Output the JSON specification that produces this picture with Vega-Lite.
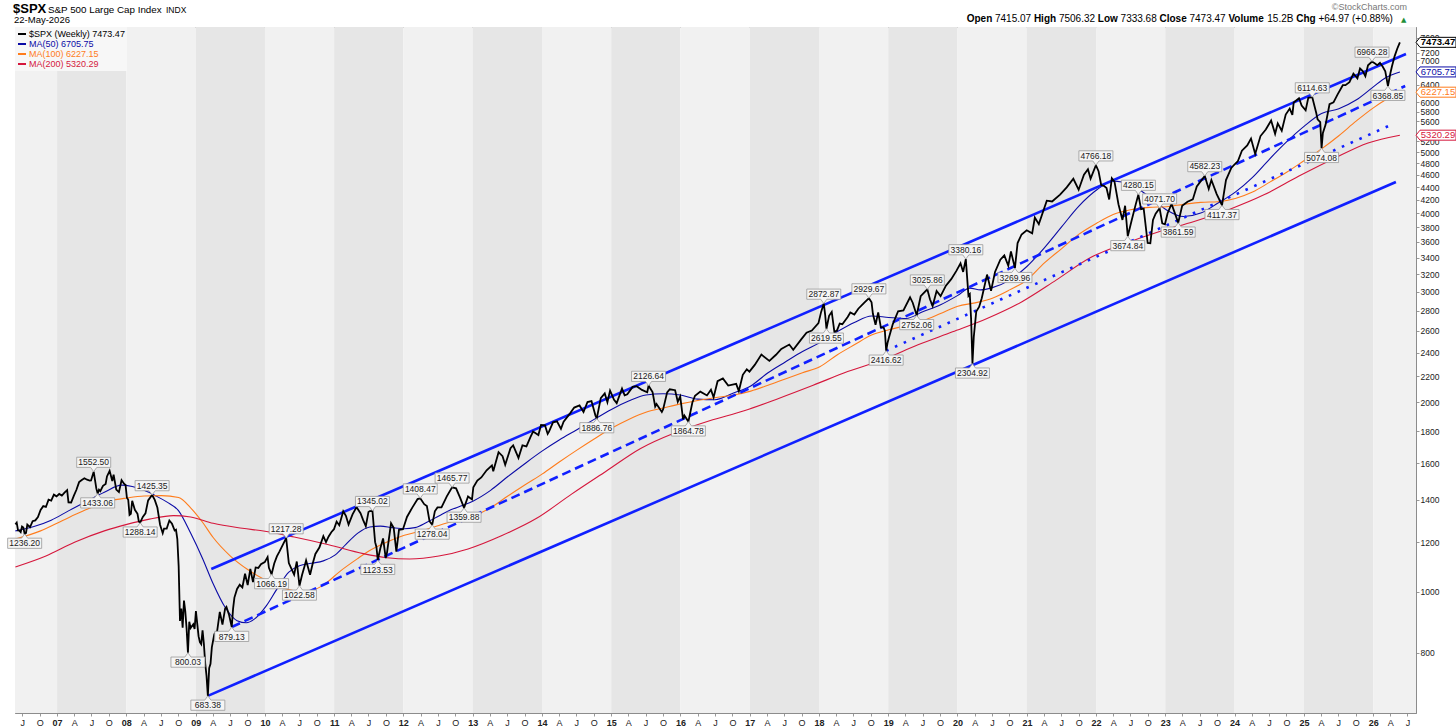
{
"$schema":"https://vega.github.io/schema/vega-lite/v6.json",
"width":1401,"height":686,
"autosize":"none",
"padding":{"left":15,"top":27,"right":40,"bottom":15},
"background":"white",
"config":{"view":{"stroke":"#8c8c8c","strokeWidth":1},"font":"Liberation Sans"},
"datasets":{
"bands":[
{"date":"2006-01-01","end":"2007-01-01"},{"date":"2007-01-01","end":"2008-01-01"},{"date":"2008-01-01","end":"2009-01-01"},{"date":"2009-01-01","end":"2010-01-01"},{"date":"2010-01-01","end":"2011-01-01"},{"date":"2011-01-01","end":"2012-01-01"},{"date":"2012-01-01","end":"2013-01-01"},{"date":"2013-01-01","end":"2014-01-01"},{"date":"2014-01-01","end":"2015-01-01"},{"date":"2015-01-01","end":"2016-01-01"},{"date":"2016-01-01","end":"2017-01-01"},{"date":"2017-01-01","end":"2018-01-01"},{"date":"2018-01-01","end":"2019-01-01"},{"date":"2019-01-01","end":"2020-01-01"},{"date":"2020-01-01","end":"2021-01-01"},{"date":"2021-01-01","end":"2022-01-01"},{"date":"2022-01-01","end":"2023-01-01"},{"date":"2023-01-01","end":"2024-01-01"},{"date":"2024-01-01","end":"2025-01-01"},{"date":"2025-01-01","end":"2026-01-01"},{"date":"2026-01-01","end":"2027-01-01"}
],
"price":[
{"date":"2006-05-26","value":1280.16},{"date":"2006-06-02","value":1288.22},{"date":"2006-06-09","value":1252.30},{"date":"2006-06-16","value":1251.54},{"date":"2006-06-23","value":1244.50},{"date":"2006-06-30","value":1270.20},{"date":"2006-07-07","value":1265.48},{"date":"2006-07-14","value":1236.20},{"date":"2006-07-21","value":1240.29},{"date":"2006-07-28","value":1278.55},{"date":"2006-08-11","value":1266.74},{"date":"2006-08-25","value":1295.09},{"date":"2006-09-08","value":1298.92},{"date":"2006-09-22","value":1314.78},{"date":"2006-10-06","value":1349.59},{"date":"2006-10-20","value":1368.60},{"date":"2006-11-03","value":1364.30},{"date":"2006-11-17","value":1401.20},{"date":"2006-12-01","value":1396.71},{"date":"2006-12-15","value":1427.09},{"date":"2006-12-29","value":1418.30},
{"date":"2007-01-12","value":1430.73},{"date":"2007-01-26","value":1422.18},{"date":"2007-02-09","value":1438.06},{"date":"2007-02-23","value":1451.19},{"date":"2007-03-02","value":1387.17},{"date":"2007-03-16","value":1386.95},{"date":"2007-03-30","value":1420.86},{"date":"2007-04-13","value":1452.85},{"date":"2007-04-27","value":1494.07},{"date":"2007-05-11","value":1505.85},{"date":"2007-05-25","value":1515.73},{"date":"2007-06-08","value":1507.67},{"date":"2007-06-22","value":1502.56},{"date":"2007-06-29","value":1503.35},{"date":"2007-07-13","value":1552.50},{"date":"2007-07-27","value":1458.95},{"date":"2007-08-03","value":1433.06},{"date":"2007-08-10","value":1453.64},{"date":"2007-08-17","value":1445.94},{"date":"2007-08-31","value":1473.99},{"date":"2007-09-14","value":1484.25},{"date":"2007-09-21","value":1525.75},{"date":"2007-10-05","value":1557.59},{"date":"2007-10-19","value":1500.63},{"date":"2007-10-26","value":1535.28},{"date":"2007-11-09","value":1453.70},{"date":"2007-11-23","value":1440.70},{"date":"2007-12-07","value":1504.66},{"date":"2007-12-21","value":1484.46},{"date":"2007-12-28","value":1478.49},
{"date":"2008-01-04","value":1411.63},{"date":"2008-01-11","value":1401.02},{"date":"2008-01-18","value":1325.19},{"date":"2008-01-25","value":1330.61},{"date":"2008-02-01","value":1395.42},{"date":"2008-02-15","value":1349.99},{"date":"2008-02-29","value":1330.63},{"date":"2008-03-07","value":1293.37},{"date":"2008-03-14","value":1288.14},{"date":"2008-03-28","value":1315.22},{"date":"2008-04-11","value":1332.83},{"date":"2008-04-25","value":1397.84},{"date":"2008-05-16","value":1425.35},{"date":"2008-05-30","value":1400.38},{"date":"2008-06-13","value":1360.03},{"date":"2008-06-27","value":1278.38},{"date":"2008-07-11","value":1239.49},{"date":"2008-07-18","value":1260.68},{"date":"2008-08-01","value":1260.31},{"date":"2008-08-15","value":1298.20},{"date":"2008-08-29","value":1282.83},{"date":"2008-09-12","value":1251.70},{"date":"2008-09-19","value":1255.08},{"date":"2008-09-26","value":1213.27},{"date":"2008-10-03","value":1099.23},{"date":"2008-10-10","value":899.22},{"date":"2008-10-17","value":940.55},{"date":"2008-10-24","value":876.77},{"date":"2008-10-31","value":968.75},{"date":"2008-11-07","value":930.99},{"date":"2008-11-14","value":873.29},{"date":"2008-11-21","value":800.03},{"date":"2008-11-28","value":896.24},{"date":"2008-12-05","value":876.07},{"date":"2008-12-19","value":887.88},{"date":"2008-12-26","value":872.80},
{"date":"2009-01-02","value":931.80},{"date":"2009-01-09","value":890.35},{"date":"2009-01-16","value":850.12},{"date":"2009-01-23","value":831.95},{"date":"2009-01-30","value":825.88},{"date":"2009-02-06","value":868.60},{"date":"2009-02-13","value":826.84},{"date":"2009-02-20","value":770.05},{"date":"2009-02-27","value":735.09},{"date":"2009-03-06","value":683.38},{"date":"2009-03-13","value":756.55},{"date":"2009-03-20","value":768.54},{"date":"2009-03-27","value":815.94},{"date":"2009-04-09","value":856.56},{"date":"2009-04-24","value":866.23},{"date":"2009-05-08","value":929.23},{"date":"2009-05-22","value":887.00},{"date":"2009-06-05","value":940.09},{"date":"2009-06-12","value":946.21},{"date":"2009-06-26","value":918.90},{"date":"2009-07-10","value":879.13},{"date":"2009-07-17","value":940.38},{"date":"2009-07-24","value":979.26},{"date":"2009-08-07","value":1010.48},{"date":"2009-08-21","value":1026.13},{"date":"2009-09-04","value":1016.40},{"date":"2009-09-18","value":1068.30},{"date":"2009-10-02","value":1025.21},{"date":"2009-10-16","value":1087.68},{"date":"2009-10-30","value":1036.19},{"date":"2009-11-13","value":1093.48},{"date":"2009-11-27","value":1091.49},{"date":"2009-12-11","value":1106.41},{"date":"2009-12-31","value":1115.10},
{"date":"2010-01-15","value":1136.03},{"date":"2010-01-22","value":1091.76},{"date":"2010-02-05","value":1066.19},{"date":"2010-02-19","value":1109.17},{"date":"2010-03-05","value":1138.70},{"date":"2010-03-19","value":1159.90},{"date":"2010-04-09","value":1194.37},{"date":"2010-04-23","value":1217.28},{"date":"2010-05-07","value":1110.88},{"date":"2010-05-21","value":1087.69},{"date":"2010-06-04","value":1064.88},{"date":"2010-06-18","value":1117.51},{"date":"2010-07-02","value":1022.58},{"date":"2010-07-16","value":1064.88},{"date":"2010-07-30","value":1101.60},{"date":"2010-08-06","value":1121.64},{"date":"2010-08-27","value":1064.59},{"date":"2010-09-10","value":1109.55},{"date":"2010-09-24","value":1148.67},{"date":"2010-10-15","value":1176.19},{"date":"2010-11-05","value":1225.85},{"date":"2010-11-19","value":1199.73},{"date":"2010-12-03","value":1224.71},{"date":"2010-12-17","value":1243.91},{"date":"2010-12-31","value":1257.64},
{"date":"2011-01-14","value":1293.24},{"date":"2011-01-28","value":1276.34},{"date":"2011-02-18","value":1343.01},{"date":"2011-03-04","value":1321.15},{"date":"2011-03-18","value":1279.21},{"date":"2011-04-08","value":1328.17},{"date":"2011-04-29","value":1363.61},{"date":"2011-05-20","value":1333.27},{"date":"2011-06-03","value":1300.16},{"date":"2011-06-17","value":1271.50},{"date":"2011-07-01","value":1339.67},{"date":"2011-07-08","value":1343.80},{"date":"2011-07-22","value":1345.02},{"date":"2011-08-05","value":1199.38},{"date":"2011-08-12","value":1178.81},{"date":"2011-08-19","value":1123.53},{"date":"2011-09-02","value":1173.97},{"date":"2011-09-16","value":1216.01},{"date":"2011-09-30","value":1131.42},{"date":"2011-10-07","value":1155.46},{"date":"2011-10-28","value":1285.09},{"date":"2011-11-11","value":1263.85},{"date":"2011-11-25","value":1158.67},{"date":"2011-12-09","value":1255.19},{"date":"2011-12-30","value":1257.60},
{"date":"2012-01-20","value":1315.38},{"date":"2012-02-17","value":1361.23},{"date":"2012-03-16","value":1404.17},{"date":"2012-03-30","value":1408.47},{"date":"2012-04-20","value":1378.53},{"date":"2012-05-04","value":1369.10},{"date":"2012-05-18","value":1295.22},{"date":"2012-06-01","value":1278.04},{"date":"2012-06-15","value":1342.84},{"date":"2012-06-29","value":1362.16},{"date":"2012-07-20","value":1362.66},{"date":"2012-08-17","value":1418.16},{"date":"2012-09-14","value":1465.77},{"date":"2012-10-05","value":1460.93},{"date":"2012-10-26","value":1411.94},{"date":"2012-11-16","value":1359.88},{"date":"2012-12-07","value":1418.07},{"date":"2012-12-28","value":1402.43},
{"date":"2013-01-04","value":1466.47},{"date":"2013-01-25","value":1502.96},{"date":"2013-02-15","value":1519.79},{"date":"2013-03-15","value":1560.70},{"date":"2013-04-12","value":1588.85},{"date":"2013-04-19","value":1555.25},{"date":"2013-05-17","value":1667.47},{"date":"2013-06-07","value":1643.38},{"date":"2013-06-21","value":1592.43},{"date":"2013-07-19","value":1692.09},{"date":"2013-08-02","value":1709.67},{"date":"2013-08-30","value":1632.97},{"date":"2013-09-20","value":1709.91},{"date":"2013-10-11","value":1703.20},{"date":"2013-11-01","value":1761.64},{"date":"2013-11-15","value":1798.18},{"date":"2013-12-13","value":1775.32},{"date":"2013-12-27","value":1841.40},
{"date":"2014-01-17","value":1838.70},{"date":"2014-01-31","value":1782.59},{"date":"2014-02-07","value":1797.02},{"date":"2014-02-28","value":1859.45},{"date":"2014-03-21","value":1866.52},{"date":"2014-04-11","value":1815.69},{"date":"2014-04-25","value":1863.40},{"date":"2014-05-30","value":1923.57},{"date":"2014-06-20","value":1962.87},{"date":"2014-07-18","value":1978.22},{"date":"2014-08-08","value":1931.59},{"date":"2014-08-29","value":2003.37},{"date":"2014-09-19","value":2010.40},{"date":"2014-10-10","value":1906.13},{"date":"2014-10-17","value":1886.76},{"date":"2014-11-07","value":2031.92},{"date":"2014-11-28","value":2067.56},{"date":"2014-12-12","value":2002.33},{"date":"2014-12-26","value":2088.77},
{"date":"2015-01-16","value":2019.42},{"date":"2015-01-30","value":1994.99},{"date":"2015-02-27","value":2104.50},{"date":"2015-03-13","value":2053.40},{"date":"2015-03-27","value":2061.02},{"date":"2015-04-24","value":2117.69},{"date":"2015-05-15","value":2122.73},{"date":"2015-06-12","value":2094.11},{"date":"2015-07-10","value":2076.62},{"date":"2015-07-17","value":2126.64},{"date":"2015-08-07","value":2077.57},{"date":"2015-08-21","value":1970.89},{"date":"2015-08-28","value":1988.87},{"date":"2015-09-25","value":1931.34},{"date":"2015-10-02","value":1951.36},{"date":"2015-10-23","value":2075.15},{"date":"2015-11-06","value":2099.20},{"date":"2015-12-04","value":2091.69},{"date":"2015-12-18","value":2005.55},{"date":"2015-12-31","value":2043.94},
{"date":"2016-01-15","value":1880.33},{"date":"2016-01-22","value":1906.90},{"date":"2016-02-12","value":1864.78},{"date":"2016-03-04","value":1999.99},{"date":"2016-03-18","value":2049.58},{"date":"2016-04-15","value":2080.73},{"date":"2016-05-20","value":2052.32},{"date":"2016-06-10","value":2096.07},{"date":"2016-06-24","value":2037.41},{"date":"2016-07-15","value":2161.74},{"date":"2016-08-12","value":2184.05},{"date":"2016-09-09","value":2127.81},{"date":"2016-10-21","value":2141.16},{"date":"2016-11-04","value":2085.18},{"date":"2016-11-25","value":2213.35},{"date":"2016-12-16","value":2258.07},{"date":"2016-12-30","value":2238.83},
{"date":"2017-01-27","value":2294.69},{"date":"2017-03-03","value":2383.12},{"date":"2017-04-14","value":2328.95},{"date":"2017-05-19","value":2381.73},{"date":"2017-06-16","value":2433.15},{"date":"2017-07-28","value":2472.10},{"date":"2017-08-18","value":2425.55},{"date":"2017-09-29","value":2519.36},{"date":"2017-10-27","value":2581.07},{"date":"2017-11-24","value":2602.42},{"date":"2017-12-29","value":2673.61},
{"date":"2018-01-12","value":2786.24},{"date":"2018-01-26","value":2872.87},{"date":"2018-02-02","value":2762.13},{"date":"2018-02-09","value":2619.55},{"date":"2018-02-23","value":2747.30},{"date":"2018-03-09","value":2786.57},{"date":"2018-03-23","value":2588.26},{"date":"2018-04-06","value":2604.47},{"date":"2018-04-20","value":2670.14},{"date":"2018-05-04","value":2663.42},{"date":"2018-06-01","value":2734.62},{"date":"2018-06-15","value":2779.66},{"date":"2018-07-06","value":2759.82},{"date":"2018-07-27","value":2818.82},{"date":"2018-08-24","value":2874.69},{"date":"2018-09-21","value":2929.67},{"date":"2018-10-05","value":2885.57},{"date":"2018-10-12","value":2767.13},{"date":"2018-10-26","value":2658.69},{"date":"2018-11-09","value":2781.01},{"date":"2018-11-23","value":2632.56},{"date":"2018-12-07","value":2633.08},{"date":"2018-12-14","value":2599.95},{"date":"2018-12-21","value":2416.62},{"date":"2018-12-28","value":2485.74},
{"date":"2019-01-04","value":2531.94},{"date":"2019-01-25","value":2664.76},{"date":"2019-02-22","value":2792.67},{"date":"2019-03-22","value":2800.71},{"date":"2019-04-26","value":2939.88},{"date":"2019-05-10","value":2881.40},{"date":"2019-05-31","value":2752.06},{"date":"2019-06-21","value":2950.46},{"date":"2019-07-26","value":3025.86},{"date":"2019-08-09","value":2918.65},{"date":"2019-08-23","value":2847.11},{"date":"2019-09-13","value":3007.39},{"date":"2019-10-04","value":2952.01},{"date":"2019-11-01","value":3066.91},{"date":"2019-11-29","value":3140.98},{"date":"2019-12-27","value":3240.02},
{"date":"2020-01-17","value":3329.62},{"date":"2020-01-31","value":3225.52},{"date":"2020-02-14","value":3380.16},{"date":"2020-02-28","value":2954.22},{"date":"2020-03-06","value":2972.37},{"date":"2020-03-13","value":2711.02},{"date":"2020-03-20","value":2304.92},{"date":"2020-03-27","value":2541.47},{"date":"2020-04-09","value":2789.82},{"date":"2020-04-24","value":2836.74},{"date":"2020-05-08","value":2929.80},{"date":"2020-06-05","value":3193.93},{"date":"2020-06-26","value":3009.05},{"date":"2020-07-17","value":3224.73},{"date":"2020-08-14","value":3372.85},{"date":"2020-09-04","value":3426.96},{"date":"2020-09-25","value":3298.46},{"date":"2020-10-09","value":3477.13},{"date":"2020-10-30","value":3269.96},{"date":"2020-11-13","value":3585.15},{"date":"2020-12-04","value":3699.12},{"date":"2020-12-31","value":3756.07},
{"date":"2021-01-29","value":3714.24},{"date":"2021-02-12","value":3934.83},{"date":"2021-03-05","value":3841.94},{"date":"2021-04-16","value":4185.47},{"date":"2021-05-14","value":4173.85},{"date":"2021-06-25","value":4280.70},{"date":"2021-07-30","value":4395.26},{"date":"2021-09-03","value":4535.43},{"date":"2021-10-01","value":4357.04},{"date":"2021-10-29","value":4605.38},{"date":"2021-11-19","value":4697.96},{"date":"2021-12-03","value":4538.43},{"date":"2021-12-31","value":4766.18},
{"date":"2022-01-14","value":4662.85},{"date":"2022-01-28","value":4431.85},{"date":"2022-02-11","value":4418.64},{"date":"2022-02-25","value":4384.65},{"date":"2022-03-11","value":4204.31},{"date":"2022-03-25","value":4543.06},{"date":"2022-04-08","value":4488.28},{"date":"2022-04-29","value":4131.93},{"date":"2022-05-20","value":3901.36},{"date":"2022-06-03","value":4108.54},{"date":"2022-06-17","value":3674.84},{"date":"2022-07-08","value":3899.38},{"date":"2022-07-29","value":4130.29},{"date":"2022-08-12","value":4280.15},{"date":"2022-08-26","value":4057.66},{"date":"2022-09-09","value":4067.36},{"date":"2022-09-30","value":3585.62},{"date":"2022-10-14","value":3583.07},{"date":"2022-10-28","value":3901.06},{"date":"2022-11-11","value":3992.93},{"date":"2022-12-02","value":4071.70},{"date":"2022-12-16","value":3852.36},{"date":"2022-12-30","value":3839.50},
{"date":"2023-01-13","value":3999.09},{"date":"2023-02-03","value":4136.48},{"date":"2023-02-24","value":3970.04},{"date":"2023-03-10","value":3861.59},{"date":"2023-03-31","value":4109.31},{"date":"2023-04-28","value":4169.48},{"date":"2023-05-26","value":4205.45},{"date":"2023-06-16","value":4409.59},{"date":"2023-07-28","value":4582.23},{"date":"2023-08-18","value":4369.71},{"date":"2023-09-01","value":4515.77},{"date":"2023-09-29","value":4288.05},{"date":"2023-10-27","value":4117.37},{"date":"2023-11-17","value":4514.02},{"date":"2023-12-15","value":4719.19},{"date":"2023-12-29","value":4769.83},
{"date":"2024-01-19","value":4839.81},{"date":"2024-02-09","value":5026.61},{"date":"2024-03-08","value":5123.69},{"date":"2024-03-28","value":5254.35},{"date":"2024-04-19","value":4967.23},{"date":"2024-05-17","value":5303.27},{"date":"2024-06-14","value":5431.60},{"date":"2024-07-12","value":5615.35},{"date":"2024-08-02","value":5346.56},{"date":"2024-08-16","value":5554.25},{"date":"2024-09-06","value":5408.42},{"date":"2024-09-27","value":5738.17},{"date":"2024-10-18","value":5864.67},{"date":"2024-11-01","value":5728.80},{"date":"2024-11-08","value":5995.54},{"date":"2024-12-06","value":6090.27},{"date":"2024-12-20","value":5930.85},
{"date":"2025-01-10","value":5827.04},{"date":"2025-01-24","value":6101.24},{"date":"2025-02-14","value":6114.63},{"date":"2025-03-07","value":5770.20},{"date":"2025-03-14","value":5638.94},{"date":"2025-03-28","value":5580.94},{"date":"2025-04-04","value":5074.08},{"date":"2025-04-11","value":5363.36},{"date":"2025-04-25","value":5525.21},{"date":"2025-05-16","value":5958.38},{"date":"2025-06-06","value":6000.36},{"date":"2025-06-27","value":6173.07},{"date":"2025-07-25","value":6388.64},{"date":"2025-08-08","value":6389.45},{"date":"2025-08-29","value":6460.26},{"date":"2025-09-19","value":6664.36},{"date":"2025-10-10","value":6552.51},{"date":"2025-10-24","value":6791.69},{"date":"2025-11-07","value":6728},{"date":"2025-11-21","value":6603},{"date":"2025-12-05","value":6870},{"date":"2025-12-26","value":6966.28},
{"date":"2026-01-09","value":6920},{"date":"2026-01-23","value":6875},{"date":"2026-02-06","value":6932},{"date":"2026-02-20","value":6840},{"date":"2026-03-06","value":6720},{"date":"2026-03-20","value":6368.85},{"date":"2026-04-03","value":6700},{"date":"2026-04-10","value":6840},{"date":"2026-04-24","value":7100},{"date":"2026-05-08","value":7300},{"date":"2026-05-22","value":7473.47}
],
"ma":[
{"series":"MA(50) 6705.75","date":"2006-05-26","value":1250},{"series":"MA(50) 6705.75","date":"2006-09-01","value":1270},{"series":"MA(50) 6705.75","date":"2006-12-01","value":1300},{"series":"MA(50) 6705.75","date":"2007-03-02","value":1345},{"series":"MA(50) 6705.75","date":"2007-06-01","value":1390},{"series":"MA(50) 6705.75","date":"2007-09-07","value":1440},{"series":"MA(50) 6705.75","date":"2007-12-07","value":1478},{"series":"MA(50) 6705.75","date":"2008-02-01","value":1470},{"series":"MA(50) 6705.75","date":"2008-04-04","value":1450},{"series":"MA(50) 6705.75","date":"2008-06-06","value":1420},{"series":"MA(50) 6705.75","date":"2008-08-01","value":1390},{"series":"MA(50) 6705.75","date":"2008-10-03","value":1345},{"series":"MA(50) 6705.75","date":"2008-12-05","value":1240},{"series":"MA(50) 6705.75","date":"2009-02-06","value":1130},{"series":"MA(50) 6705.75","date":"2009-04-03","value":1030},{"series":"MA(50) 6705.75","date":"2009-06-05","value":945},{"series":"MA(50) 6705.75","date":"2009-08-07","value":900},{"series":"MA(50) 6705.75","date":"2009-09-25","value":893},{"series":"MA(50) 6705.75","date":"2009-11-06","value":905},{"series":"MA(50) 6705.75","date":"2010-01-08","value":950},{"series":"MA(50) 6705.75","date":"2010-03-05","value":1010},{"series":"MA(50) 6705.75","date":"2010-05-07","value":1075},{"series":"MA(50) 6705.75","date":"2010-07-02","value":1100},{"series":"MA(50) 6705.75","date":"2010-09-03","value":1110},{"series":"MA(50) 6705.75","date":"2010-11-05","value":1120},{"series":"MA(50) 6705.75","date":"2011-01-07","value":1145},{"series":"MA(50) 6705.75","date":"2011-03-04","value":1190},{"series":"MA(50) 6705.75","date":"2011-05-06","value":1240},{"series":"MA(50) 6705.75","date":"2011-07-08","value":1268},{"series":"MA(50) 6705.75","date":"2011-09-02","value":1272},{"series":"MA(50) 6705.75","date":"2011-11-04","value":1265},{"series":"MA(50) 6705.75","date":"2012-01-06","value":1260},{"series":"MA(50) 6705.75","date":"2012-03-02","value":1265},{"series":"MA(50) 6705.75","date":"2012-05-04","value":1290},{"series":"MA(50) 6705.75","date":"2012-07-06","value":1320},{"series":"MA(50) 6705.75","date":"2012-09-07","value":1350},{"series":"MA(50) 6705.75","date":"2012-11-02","value":1370},{"series":"MA(50) 6705.75","date":"2013-01-04","value":1395},{"series":"MA(50) 6705.75","date":"2013-04-05","value":1450},{"series":"MA(50) 6705.75","date":"2013-07-05","value":1525},{"series":"MA(50) 6705.75","date":"2013-10-04","value":1600},{"series":"MA(50) 6705.75","date":"2014-01-03","value":1675},{"series":"MA(50) 6705.75","date":"2014-04-04","value":1745},{"series":"MA(50) 6705.75","date":"2014-07-04","value":1810},{"series":"MA(50) 6705.75","date":"2014-10-03","value":1880},{"series":"MA(50) 6705.75","date":"2015-01-02","value":1950},{"series":"MA(50) 6705.75","date":"2015-04-03","value":2010},{"series":"MA(50) 6705.75","date":"2015-07-03","value":2055},{"series":"MA(50) 6705.75","date":"2015-10-02","value":2065},{"series":"MA(50) 6705.75","date":"2016-01-01","value":2055},{"series":"MA(50) 6705.75","date":"2016-04-01","value":2025},{"series":"MA(50) 6705.75","date":"2016-07-01","value":2020},{"series":"MA(50) 6705.75","date":"2016-10-07","value":2070},{"series":"MA(50) 6705.75","date":"2017-01-06","value":2125},{"series":"MA(50) 6705.75","date":"2017-04-07","value":2230},{"series":"MA(50) 6705.75","date":"2017-07-07","value":2320},{"series":"MA(50) 6705.75","date":"2017-10-06","value":2410},{"series":"MA(50) 6705.75","date":"2018-01-05","value":2490},{"series":"MA(50) 6705.75","date":"2018-04-06","value":2590},{"series":"MA(50) 6705.75","date":"2018-07-06","value":2680},{"series":"MA(50) 6705.75","date":"2018-10-05","value":2745},{"series":"MA(50) 6705.75","date":"2019-01-04","value":2730},{"series":"MA(50) 6705.75","date":"2019-04-05","value":2720},{"series":"MA(50) 6705.75","date":"2019-07-05","value":2790},{"series":"MA(50) 6705.75","date":"2019-10-04","value":2860},{"series":"MA(50) 6705.75","date":"2020-01-03","value":2960},{"series":"MA(50) 6705.75","date":"2020-03-06","value":3040},{"series":"MA(50) 6705.75","date":"2020-05-01","value":3020},{"series":"MA(50) 6705.75","date":"2020-07-03","value":3045},{"series":"MA(50) 6705.75","date":"2020-10-02","value":3130},{"series":"MA(50) 6705.75","date":"2021-01-01","value":3290},{"series":"MA(50) 6705.75","date":"2021-04-02","value":3520},{"series":"MA(50) 6705.75","date":"2021-07-02","value":3800},{"series":"MA(50) 6705.75","date":"2021-10-01","value":4100},{"series":"MA(50) 6705.75","date":"2022-01-07","value":4360},{"series":"MA(50) 6705.75","date":"2022-04-01","value":4500},{"series":"MA(50) 6705.75","date":"2022-07-01","value":4440},{"series":"MA(50) 6705.75","date":"2022-10-07","value":4250},{"series":"MA(50) 6705.75","date":"2023-01-06","value":4050},{"series":"MA(50) 6705.75","date":"2023-04-07","value":3950},{"series":"MA(50) 6705.75","date":"2023-07-07","value":4000},{"series":"MA(50) 6705.75","date":"2023-10-06","value":4150},{"series":"MA(50) 6705.75","date":"2024-01-05","value":4320},{"series":"MA(50) 6705.75","date":"2024-04-05","value":4560},{"series":"MA(50) 6705.75","date":"2024-07-05","value":4880},{"series":"MA(50) 6705.75","date":"2024-10-04","value":5200},{"series":"MA(50) 6705.75","date":"2025-01-03","value":5500},{"series":"MA(50) 6705.75","date":"2025-04-04","value":5760},{"series":"MA(50) 6705.75","date":"2025-07-04","value":5860},{"series":"MA(50) 6705.75","date":"2025-10-03","value":6050},{"series":"MA(50) 6705.75","date":"2026-01-02","value":6350},{"series":"MA(50) 6705.75","date":"2026-03-06","value":6560},{"series":"MA(50) 6705.75","date":"2026-05-22","value":6705.75},
{"series":"MA(100) 6227.15","date":"2006-05-26","value":1213},{"series":"MA(100) 6227.15","date":"2006-10-06","value":1250},{"series":"MA(100) 6227.15","date":"2007-02-02","value":1300},{"series":"MA(100) 6227.15","date":"2007-06-01","value":1350},{"series":"MA(100) 6227.15","date":"2007-10-05","value":1395},{"series":"MA(100) 6227.15","date":"2008-01-04","value":1410},{"series":"MA(100) 6227.15","date":"2008-04-04","value":1420},{"series":"MA(100) 6227.15","date":"2008-07-04","value":1422},{"series":"MA(100) 6227.15","date":"2008-10-03","value":1412},{"series":"MA(100) 6227.15","date":"2008-12-05","value":1360},{"series":"MA(100) 6227.15","date":"2009-02-06","value":1290},{"series":"MA(100) 6227.15","date":"2009-04-03","value":1220},{"series":"MA(100) 6227.15","date":"2009-07-03","value":1140},{"series":"MA(100) 6227.15","date":"2009-10-02","value":1085},{"series":"MA(100) 6227.15","date":"2010-01-01","value":1045},{"series":"MA(100) 6227.15","date":"2010-04-02","value":1015},{"series":"MA(100) 6227.15","date":"2010-08-06","value":1000},{"series":"MA(100) 6227.15","date":"2010-11-05","value":1025},{"series":"MA(100) 6227.15","date":"2011-02-04","value":1080},{"series":"MA(100) 6227.15","date":"2011-05-06","value":1130},{"series":"MA(100) 6227.15","date":"2011-07-01","value":1160},{"series":"MA(100) 6227.15","date":"2011-10-07","value":1200},{"series":"MA(100) 6227.15","date":"2012-01-06","value":1230},{"series":"MA(100) 6227.15","date":"2012-04-06","value":1250},{"series":"MA(100) 6227.15","date":"2012-07-06","value":1275},{"series":"MA(100) 6227.15","date":"2012-10-05","value":1300},{"series":"MA(100) 6227.15","date":"2013-01-04","value":1320},{"series":"MA(100) 6227.15","date":"2013-04-05","value":1360},{"series":"MA(100) 6227.15","date":"2013-07-05","value":1420},{"series":"MA(100) 6227.15","date":"2013-10-04","value":1480},{"series":"MA(100) 6227.15","date":"2014-01-03","value":1540},{"series":"MA(100) 6227.15","date":"2014-04-04","value":1610},{"series":"MA(100) 6227.15","date":"2014-07-04","value":1680},{"series":"MA(100) 6227.15","date":"2014-10-03","value":1750},{"series":"MA(100) 6227.15","date":"2015-01-02","value":1820},{"series":"MA(100) 6227.15","date":"2015-04-03","value":1880},{"series":"MA(100) 6227.15","date":"2015-07-03","value":1930},{"series":"MA(100) 6227.15","date":"2015-10-02","value":1960},{"series":"MA(100) 6227.15","date":"2016-01-01","value":1990},{"series":"MA(100) 6227.15","date":"2016-04-01","value":2015},{"series":"MA(100) 6227.15","date":"2016-07-01","value":2035},{"series":"MA(100) 6227.15","date":"2016-10-07","value":2055},{"series":"MA(100) 6227.15","date":"2017-01-06","value":2085},{"series":"MA(100) 6227.15","date":"2017-04-07","value":2130},{"series":"MA(100) 6227.15","date":"2017-07-07","value":2180},{"series":"MA(100) 6227.15","date":"2017-10-06","value":2230},{"series":"MA(100) 6227.15","date":"2018-01-05","value":2280},{"series":"MA(100) 6227.15","date":"2018-04-06","value":2380},{"series":"MA(100) 6227.15","date":"2018-07-06","value":2470},{"series":"MA(100) 6227.15","date":"2018-10-05","value":2560},{"series":"MA(100) 6227.15","date":"2019-01-04","value":2610},{"series":"MA(100) 6227.15","date":"2019-04-05","value":2650},{"series":"MA(100) 6227.15","date":"2019-07-05","value":2700},{"series":"MA(100) 6227.15","date":"2019-10-04","value":2770},{"series":"MA(100) 6227.15","date":"2020-01-03","value":2845},{"series":"MA(100) 6227.15","date":"2020-04-03","value":2880},{"series":"MA(100) 6227.15","date":"2020-07-03","value":2930},{"series":"MA(100) 6227.15","date":"2020-10-02","value":3020},{"series":"MA(100) 6227.15","date":"2021-01-01","value":3130},{"series":"MA(100) 6227.15","date":"2021-04-02","value":3330},{"series":"MA(100) 6227.15","date":"2021-07-02","value":3510},{"series":"MA(100) 6227.15","date":"2021-10-01","value":3700},{"series":"MA(100) 6227.15","date":"2022-01-07","value":3860},{"series":"MA(100) 6227.15","date":"2022-04-01","value":3980},{"series":"MA(100) 6227.15","date":"2022-07-01","value":4050},{"series":"MA(100) 6227.15","date":"2022-10-07","value":4085},{"series":"MA(100) 6227.15","date":"2023-01-06","value":4095},{"series":"MA(100) 6227.15","date":"2023-04-07","value":4130},{"series":"MA(100) 6227.15","date":"2023-07-07","value":4160},{"series":"MA(100) 6227.15","date":"2023-10-06","value":4170},{"series":"MA(100) 6227.15","date":"2024-01-05","value":4220},{"series":"MA(100) 6227.15","date":"2024-04-05","value":4320},{"series":"MA(100) 6227.15","date":"2024-07-05","value":4480},{"series":"MA(100) 6227.15","date":"2024-10-04","value":4650},{"series":"MA(100) 6227.15","date":"2025-01-03","value":4850},{"series":"MA(100) 6227.15","date":"2025-04-04","value":5060},{"series":"MA(100) 6227.15","date":"2025-07-04","value":5310},{"series":"MA(100) 6227.15","date":"2025-10-03","value":5600},{"series":"MA(100) 6227.15","date":"2026-01-02","value":5880},{"series":"MA(100) 6227.15","date":"2026-03-06","value":6050},{"series":"MA(100) 6227.15","date":"2026-05-22","value":6227.15},
{"series":"MA(200) 5320.29","date":"2006-05-26","value":1095},{"series":"MA(200) 5320.29","date":"2006-11-03","value":1140},{"series":"MA(200) 5320.29","date":"2007-04-06","value":1200},{"series":"MA(200) 5320.29","date":"2007-09-07","value":1250},{"series":"MA(200) 5320.29","date":"2008-01-04","value":1280},{"series":"MA(200) 5320.29","date":"2008-05-02","value":1305},{"series":"MA(200) 5320.29","date":"2008-09-05","value":1322},{"series":"MA(200) 5320.29","date":"2008-12-05","value":1315},{"series":"MA(200) 5320.29","date":"2009-04-03","value":1285},{"series":"MA(200) 5320.29","date":"2009-09-04","value":1262},{"series":"MA(200) 5320.29","date":"2010-01-01","value":1248},{"series":"MA(200) 5320.29","date":"2010-06-04","value":1222},{"series":"MA(200) 5320.29","date":"2010-12-03","value":1188},{"series":"MA(200) 5320.29","date":"2011-06-03","value":1150},{"series":"MA(200) 5320.29","date":"2011-10-07","value":1133},{"series":"MA(200) 5320.29","date":"2012-02-03","value":1128},{"series":"MA(200) 5320.29","date":"2012-07-06","value":1140},{"series":"MA(200) 5320.29","date":"2012-12-07","value":1170},{"series":"MA(200) 5320.29","date":"2013-06-07","value":1230},{"series":"MA(200) 5320.29","date":"2013-12-06","value":1310},{"series":"MA(200) 5320.29","date":"2014-06-06","value":1430},{"series":"MA(200) 5320.29","date":"2014-12-05","value":1555},{"series":"MA(200) 5320.29","date":"2015-06-05","value":1690},{"series":"MA(200) 5320.29","date":"2015-12-04","value":1790},{"series":"MA(200) 5320.29","date":"2016-06-03","value":1870},{"series":"MA(200) 5320.29","date":"2016-12-02","value":1940},{"series":"MA(200) 5320.29","date":"2017-06-02","value":2030},{"series":"MA(200) 5320.29","date":"2017-12-01","value":2130},{"series":"MA(200) 5320.29","date":"2018-06-01","value":2240},{"series":"MA(200) 5320.29","date":"2018-12-07","value":2340},{"series":"MA(200) 5320.29","date":"2019-06-07","value":2470},{"series":"MA(200) 5320.29","date":"2019-12-06","value":2590},{"series":"MA(200) 5320.29","date":"2020-06-05","value":2720},{"series":"MA(200) 5320.29","date":"2020-12-04","value":2890},{"series":"MA(200) 5320.29","date":"2021-06-04","value":3130},{"series":"MA(200) 5320.29","date":"2021-12-03","value":3400},{"series":"MA(200) 5320.29","date":"2022-06-03","value":3580},{"series":"MA(200) 5320.29","date":"2022-12-02","value":3740},{"series":"MA(200) 5320.29","date":"2023-06-02","value":3880},{"series":"MA(200) 5320.29","date":"2023-12-01","value":4050},{"series":"MA(200) 5320.29","date":"2024-06-07","value":4280},{"series":"MA(200) 5320.29","date":"2024-12-06","value":4580},{"series":"MA(200) 5320.29","date":"2025-06-06","value":4880},{"series":"MA(200) 5320.29","date":"2025-12-05","value":5170},{"series":"MA(200) 5320.29","date":"2026-05-22","value":5320.29}
],
"trend":[
{"line":"upper","date":"2009-03-24","value":1087},{"line":"upper","date":"2026-06-23","value":7161},
{"line":"lower","date":"2009-03-06","value":683.38},{"line":"lower","date":"2026-05-01","value":4482},
{"line":"mid","date":"2009-07-10","value":879.13},{"line":"mid","date":"2026-06-19","value":6369},
{"line":"inner","date":"2018-12-21","value":2416.62},{"line":"inner","date":"2026-04-15","value":5541}
],
"notes":[
{"date":"2006-07-14","value":1236.20,"pos":"below"},{"date":"2007-07-13","value":1552.50,"pos":"above"},{"date":"2007-08-03","value":1433.06,"pos":"below"},{"date":"2008-05-16","value":1425.35,"pos":"above"},{"date":"2008-03-14","value":1288.14,"pos":"below"},{"date":"2008-11-21","value":800.03,"pos":"below"},{"date":"2009-03-06","value":683.38,"pos":"below"},{"date":"2009-07-10","value":879.13,"pos":"below"},{"date":"2010-02-05","value":1066.19,"pos":"below"},{"date":"2010-04-23","value":1217.28,"pos":"above"},{"date":"2010-07-02","value":1022.58,"pos":"below"},{"date":"2011-07-22","value":1345.02,"pos":"above"},{"date":"2011-08-19","value":1123.53,"pos":"below"},{"date":"2012-03-30","value":1408.47,"pos":"above"},{"date":"2012-06-01","value":1278.04,"pos":"below"},{"date":"2012-09-14","value":1465.77,"pos":"above"},{"date":"2012-11-16","value":1359.88,"pos":"below"},{"date":"2014-10-17","value":1886.76,"pos":"below"},{"date":"2015-07-17","value":2126.64,"pos":"above"},{"date":"2016-02-12","value":1864.78,"pos":"below"},{"date":"2018-01-26","value":2872.87,"pos":"above"},{"date":"2018-02-09","value":2619.55,"pos":"below"},{"date":"2018-09-21","value":2929.67,"pos":"above"},{"date":"2018-12-21","value":2416.62,"pos":"below"},{"date":"2019-05-31","value":2752.06,"pos":"below"},{"date":"2019-07-26","value":3025.86,"pos":"above"},{"date":"2020-02-14","value":3380.16,"pos":"above"},{"date":"2020-03-20","value":2304.92,"pos":"below"},{"date":"2020-10-30","value":3269.96,"pos":"below"},{"date":"2021-12-31","value":4766.18,"pos":"above"},{"date":"2022-08-12","value":4280.15,"pos":"above"},{"date":"2022-06-17","value":3674.84,"pos":"below"},{"date":"2022-12-02","value":4071.70,"pos":"above"},{"date":"2023-03-10","value":3861.59,"pos":"below"},{"date":"2023-07-28","value":4582.23,"pos":"above"},{"date":"2023-10-27","value":4117.37,"pos":"below"},{"date":"2025-02-14","value":6114.63,"pos":"above"},{"date":"2025-04-04","value":5074.08,"pos":"below"},{"date":"2025-12-26","value":6966.28,"pos":"above"},{"date":"2026-03-20","value":6368.85,"pos":"below"}
],
"last":[
{"series":"$SPX (Weekly) 7473.47","value":7473.47},{"series":"MA(50) 6705.75","value":6705.75},{"series":"MA(100) 6227.15","value":6227.15},{"series":"MA(200) 5320.29","value":5320.29}
],
"one":[{"k":1}]
},
"layer":[
{"data":{"name":"bands"},"mark":{"type":"rect","clip":true},
 "encoding":{"x":{"field":"date","type":"temporal","title":null,"scale":{"type":"utc","nice":false,"domain":[{"year":2006,"month":5,"date":24,"utc":true},{"year":2026,"month":8,"date":15,"utc":true}]}},"x2":{"field":"end"},
 "y":{"datum":641.8,"type":"quantitative","scale":{"type":"log","nice":false,"domain":[641.8,7905]}},"y2":{"datum":7905},
 "fill":{"condition":{"test":"utcyear(datum.date) % 2 == 1","value":"#e6e6e6"},"value":"#f1f1f1"}}},
{"data":{"name":"ma"},"mark":{"type":"line","strokeWidth":1.1,"interpolate":"monotone"},
 "encoding":{"x":{"field":"date","type":"temporal","title":null,"scale":{"type":"utc","nice":false,"domain":[{"year":2006,"month":5,"date":24,"utc":true},{"year":2026,"month":8,"date":15,"utc":true}]}},
 "y":{"field":"value","type":"quantitative","title":null,"scale":{"type":"log","nice":false,"domain":[641.8,7905]}},
 "color":{"field":"series","type":"nominal",
  "scale":{"domain":["$SPX (Weekly) 7473.47","MA(50) 6705.75","MA(100) 6227.15","MA(200) 5320.29"],"range":["#000000","#0b0ba6","#ff7c1c","#d5173c"]},
  "legend":{"orient":"top-left","title":null,"offset":0,"padding":2,"fillColor":"#f7f7f7","symbolType":"stroke","symbolSize":64,"symbolStrokeWidth":2,"labelFontSize":9,"labelFont":"Liberation Sans","labelOffset":2,"rowPadding":0,"labelLimit":200,
   "encode":{"labels":{"update":{"fill":{"scale":"color","field":"value"}}}}}}}},
{"data":{"name":"trend"},"transform":[{"filter":"datum.line == 'upper' || datum.line == 'lower'"}],"mark":{"type":"line","color":"#1020ff","strokeWidth":2.6},
 "encoding":{"x":{"field":"date","type":"temporal","title":null,"scale":{"type":"utc","nice":false,"domain":[{"year":2006,"month":5,"date":24,"utc":true},{"year":2026,"month":8,"date":15,"utc":true}]}},"y":{"field":"value","type":"quantitative","title":null,"scale":{"type":"log","nice":false,"domain":[641.8,7905]}},"detail":{"field":"line"}}},
{"data":{"name":"trend"},"transform":[{"filter":"datum.line == 'mid'"}],"mark":{"type":"line","color":"#1020ff","strokeWidth":2.6,"strokeDash":[9,5]},
 "encoding":{"x":{"field":"date","type":"temporal","title":null,"scale":{"type":"utc","nice":false,"domain":[{"year":2006,"month":5,"date":24,"utc":true},{"year":2026,"month":8,"date":15,"utc":true}]}},"y":{"field":"value","type":"quantitative","title":null,"scale":{"type":"log","nice":false,"domain":[641.8,7905]}}}},
{"data":{"name":"trend"},"transform":[{"filter":"datum.line == 'inner'"}],"mark":{"type":"line","color":"#1020ff","strokeWidth":2.6,"strokeDash":[2.6,7]},
 "encoding":{"x":{"field":"date","type":"temporal","title":null,"scale":{"type":"utc","nice":false,"domain":[{"year":2006,"month":5,"date":24,"utc":true},{"year":2026,"month":8,"date":15,"utc":true}]}},"y":{"field":"value","type":"quantitative","title":null,"scale":{"type":"log","nice":false,"domain":[641.8,7905]}}}},
{"data":{"name":"price"},"mark":{"type":"line","strokeWidth":1.8},
 "encoding":{
 "x":{"field":"date","type":"temporal","title":null,"scale":{"type":"utc","nice":false,"domain":[{"year":2006,"month":5,"date":24,"utc":true},{"year":2026,"month":8,"date":15,"utc":true}]},
  "axis":{"orient":"bottom","title":null,"grid":false,"tickCount":{"interval":"month","step":3},"labelExpr":"utcmonth(datum.value)==0 ? utcFormat(datum.value,'%y') : substring(utcFormat(datum.value,'%b'),0,1)","labelFontWeight":{"condition":{"test":"utcmonth(datum.value)==0","value":"bold"},"value":"normal"},"labelFontSize":9,"labelColor":"#222","labelFont":"Liberation Sans","tickSize":3,"tickColor":"#999","domainColor":"#8c8c8c","labelPadding":2,"labelOverlap":false,"labelFlush":false,"labelBound":false}},
 "y":{"field":"value","type":"quantitative","title":null,"scale":{"type":"log","nice":false,"domain":[641.8,7905]},
  "axis":{"orient":"right","title":null,"grid":false,"values":[800,1000,1200,1400,1600,1800,2000,2200,2400,2600,2800,3000,3200,3400,3600,3800,4000,4200,4400,4600,4800,5000,5200,5600,5800,6000,6400,7000,7200,7600],"format":"d","labelFontSize":8.5,"labelColor":"#222","labelFont":"Liberation Sans","tickSize":3,"tickColor":"#999","domainColor":"#8c8c8c","labelPadding":1,"labelOverlap":false,"labelBound":false}},
 "color":{"datum":"$SPX (Weekly) 7473.47","type":"nominal"}}},
{"data":{"name":"notes"},"transform":[{"filter":"datum.pos == 'above'"}],
 "mark":{"type":"point","shape":"M-1,-0.85L1,-0.85L1,-0.25L0.18,-0.25L0,0L-0.18,-0.25L-1,-0.25Z","size":1156,"filled":true,"fill":"#f5f5f5","stroke":"#999999","strokeWidth":0.8,"opacity":1},
 "encoding":{"x":{"field":"date","type":"temporal","title":null,"scale":{"type":"utc","nice":false,"domain":[{"year":2006,"month":5,"date":24,"utc":true},{"year":2026,"month":8,"date":15,"utc":true}]}},"y":{"field":"value","type":"quantitative","title":null,"scale":{"type":"log","nice":false,"domain":[641.8,7905]}}}},
{"data":{"name":"notes"},"transform":[{"filter":"datum.pos == 'above'"}],
 "mark":{"type":"text","dy":-9.5,"fontSize":8.5,"font":"Liberation Sans","color":"#1a1a1a","baseline":"middle"},
 "encoding":{"x":{"field":"date","type":"temporal","title":null,"scale":{"type":"utc","nice":false,"domain":[{"year":2006,"month":5,"date":24,"utc":true},{"year":2026,"month":8,"date":15,"utc":true}]}},"y":{"field":"value","type":"quantitative","title":null,"scale":{"type":"log","nice":false,"domain":[641.8,7905]}},"text":{"field":"value","type":"quantitative","format":".2f"}}},
{"data":{"name":"notes"},"transform":[{"filter":"datum.pos == 'below'"}],
 "mark":{"type":"point","shape":"M-1,0.85L1,0.85L1,0.25L0.18,0.25L0,0L-0.18,0.25L-1,0.25Z","size":1156,"filled":true,"fill":"#f5f5f5","stroke":"#999999","strokeWidth":0.8,"opacity":1},
 "encoding":{"x":{"field":"date","type":"temporal","title":null,"scale":{"type":"utc","nice":false,"domain":[{"year":2006,"month":5,"date":24,"utc":true},{"year":2026,"month":8,"date":15,"utc":true}]}},"y":{"field":"value","type":"quantitative","title":null,"scale":{"type":"log","nice":false,"domain":[641.8,7905]}}}},
{"data":{"name":"notes"},"transform":[{"filter":"datum.pos == 'below'"}],
 "mark":{"type":"text","dy":9.5,"fontSize":8.5,"font":"Liberation Sans","color":"#1a1a1a","baseline":"middle"},
 "encoding":{"x":{"field":"date","type":"temporal","title":null,"scale":{"type":"utc","nice":false,"domain":[{"year":2006,"month":5,"date":24,"utc":true},{"year":2026,"month":8,"date":15,"utc":true}]}},"y":{"field":"value","type":"quantitative","title":null,"scale":{"type":"log","nice":false,"domain":[641.8,7905]}},"text":{"field":"value","type":"quantitative","format":".2f"}}},
{"data":{"name":"last"},
 "mark":{"type":"point","shape":"M0,0L0.2,-0.25L2,-0.25L2,0.25L0.2,0.25Z","size":1600,"filled":true,"fill":"#ffffff","strokeWidth":1,"opacity":1},
 "encoding":{"x":{"datum":{"year":2026,"month":8,"date":15,"utc":true},"type":"temporal","scale":{"type":"utc","nice":false,"domain":[{"year":2006,"month":5,"date":24,"utc":true},{"year":2026,"month":8,"date":15,"utc":true}]}},"y":{"field":"value","type":"quantitative","title":null,"scale":{"type":"log","nice":false,"domain":[641.8,7905]}},
  "stroke":{"field":"series","type":"nominal","scale":{"domain":["$SPX (Weekly) 7473.47","MA(50) 6705.75","MA(100) 6227.15","MA(200) 5320.29"],"range":["#000000","#0b0ba6","#ff7c1c","#d5173c"]},"legend":null}}},
{"data":{"name":"last"},"transform":[{"filter":"datum.value > 7000"}],
 "mark":{"type":"text","dx":22,"fontSize":9.5,"fontWeight":"bold","font":"Liberation Sans","baseline":"middle","align":"center","color":"#000000"},
 "encoding":{"x":{"datum":{"year":2026,"month":8,"date":15,"utc":true},"type":"temporal","scale":{"type":"utc","nice":false,"domain":[{"year":2006,"month":5,"date":24,"utc":true},{"year":2026,"month":8,"date":15,"utc":true}]}},"y":{"field":"value","type":"quantitative","title":null,"scale":{"type":"log","nice":false,"domain":[641.8,7905]}},"text":{"field":"value","type":"quantitative","format":".2f"}}},
{"data":{"name":"last"},"transform":[{"filter":"datum.value < 7000"}],
 "mark":{"type":"text","dx":22,"fontSize":9.5,"font":"Liberation Sans","baseline":"middle","align":"center"},
 "encoding":{"x":{"datum":{"year":2026,"month":8,"date":15,"utc":true},"type":"temporal","scale":{"type":"utc","nice":false,"domain":[{"year":2006,"month":5,"date":24,"utc":true},{"year":2026,"month":8,"date":15,"utc":true}]}},"y":{"field":"value","type":"quantitative","title":null,"scale":{"type":"log","nice":false,"domain":[641.8,7905]}},"color":{"field":"series","type":"nominal","legend":null},"text":{"field":"value","type":"quantitative","format":".2f"}}},
{"data":{"name":"one"},"mark":{"type":"text","text":"$SPX","dx":-2,"dy":-14.3,"align":"left","baseline":"alphabetic","fontSize":13,"fontWeight":"bold","font":"Liberation Sans","color":"#000"},"encoding":{"x":{"datum":{"year":2006,"month":5,"date":24,"utc":true},"type":"temporal","scale":{"type":"utc","nice":false,"domain":[{"year":2006,"month":5,"date":24,"utc":true},{"year":2026,"month":8,"date":15,"utc":true}]}},"y":{"datum":7905,"type":"quantitative","scale":{"type":"log","nice":false,"domain":[641.8,7905]}}}},
{"data":{"name":"one"},"mark":{"type":"text","text":"S&P 500 Large Cap Index","dx":33,"dy":-14.3,"align":"left","baseline":"alphabetic","fontSize":9.8,"font":"Liberation Sans","color":"#000"},"encoding":{"x":{"datum":{"year":2006,"month":5,"date":24,"utc":true},"type":"temporal"},"y":{"datum":7905,"type":"quantitative"}}},
{"data":{"name":"one"},"mark":{"type":"text","text":"INDX","dx":151,"dy":-14.3,"align":"left","baseline":"alphabetic","fontSize":8.5,"font":"Liberation Sans","color":"#000"},"encoding":{"x":{"datum":{"year":2006,"month":5,"date":24,"utc":true},"type":"temporal"},"y":{"datum":7905,"type":"quantitative"}}},
{"data":{"name":"one"},"mark":{"type":"text","text":"22-May-2026","dx":-1,"dy":-3.7,"align":"left","baseline":"alphabetic","fontSize":9.5,"font":"Liberation Sans","color":"#000"},"encoding":{"x":{"datum":{"year":2006,"month":5,"date":24,"utc":true},"type":"temporal"},"y":{"datum":7905,"type":"quantitative"}}},
{"data":{"name":"one"},"mark":{"type":"text","text":"©StockCharts.com","dx":-9,"dy":-17,"align":"right","baseline":"alphabetic","fontSize":9,"font":"Liberation Sans","color":"#777"},"encoding":{"x":{"datum":{"year":2026,"month":8,"date":15,"utc":true},"type":"temporal"},"y":{"datum":7905,"type":"quantitative"}}},
{"data":{"name":"one"},"mark":{"type":"text","text":"Open","dx":-449.3,"dy":-5,"align":"left","baseline":"alphabetic","fontSize":10,"fontWeight":"bold","font":"Liberation Sans","color":"#000"},"encoding":{"x":{"datum":{"year":2026,"month":8,"date":15,"utc":true},"type":"temporal"},"y":{"datum":7905,"type":"quantitative"}}},
{"data":{"name":"one"},"mark":{"type":"text","text":"7415.07","dx":-421,"dy":-5,"align":"left","baseline":"alphabetic","fontSize":10,"font":"Liberation Sans","color":"#000"},"encoding":{"x":{"datum":{"year":2026,"month":8,"date":15,"utc":true},"type":"temporal"},"y":{"datum":7905,"type":"quantitative"}}},
{"data":{"name":"one"},"mark":{"type":"text","text":"High","dx":-382.1,"dy":-5,"align":"left","baseline":"alphabetic","fontSize":10,"fontWeight":"bold","font":"Liberation Sans","color":"#000"},"encoding":{"x":{"datum":{"year":2026,"month":8,"date":15,"utc":true},"type":"temporal"},"y":{"datum":7905,"type":"quantitative"}}},
{"data":{"name":"one"},"mark":{"type":"text","text":"7506.32","dx":-357.1,"dy":-5,"align":"left","baseline":"alphabetic","fontSize":10,"font":"Liberation Sans","color":"#000"},"encoding":{"x":{"datum":{"year":2026,"month":8,"date":15,"utc":true},"type":"temporal"},"y":{"datum":7905,"type":"quantitative"}}},
{"data":{"name":"one"},"mark":{"type":"text","text":"Low","dx":-318.2,"dy":-5,"align":"left","baseline":"alphabetic","fontSize":10,"fontWeight":"bold","font":"Liberation Sans","color":"#000"},"encoding":{"x":{"datum":{"year":2026,"month":8,"date":15,"utc":true},"type":"temporal"},"y":{"datum":7905,"type":"quantitative"}}},
{"data":{"name":"one"},"mark":{"type":"text","text":"7333.68","dx":-295.4,"dy":-5,"align":"left","baseline":"alphabetic","fontSize":10,"font":"Liberation Sans","color":"#000"},"encoding":{"x":{"datum":{"year":2026,"month":8,"date":15,"utc":true},"type":"temporal"},"y":{"datum":7905,"type":"quantitative"}}},
{"data":{"name":"one"},"mark":{"type":"text","text":"Close","dx":-256.5,"dy":-5,"align":"left","baseline":"alphabetic","fontSize":10,"fontWeight":"bold","font":"Liberation Sans","color":"#000"},"encoding":{"x":{"datum":{"year":2026,"month":8,"date":15,"utc":true},"type":"temporal"},"y":{"datum":7905,"type":"quantitative"}}},
{"data":{"name":"one"},"mark":{"type":"text","text":"7473.47","dx":-226.5,"dy":-5,"align":"left","baseline":"alphabetic","fontSize":10,"font":"Liberation Sans","color":"#000"},"encoding":{"x":{"datum":{"year":2026,"month":8,"date":15,"utc":true},"type":"temporal"},"y":{"datum":7905,"type":"quantitative"}}},
{"data":{"name":"one"},"mark":{"type":"text","text":"Volume","dx":-187.6,"dy":-5,"align":"left","baseline":"alphabetic","fontSize":10,"fontWeight":"bold","font":"Liberation Sans","color":"#000"},"encoding":{"x":{"datum":{"year":2026,"month":8,"date":15,"utc":true},"type":"temporal"},"y":{"datum":7905,"type":"quantitative"}}},
{"data":{"name":"one"},"mark":{"type":"text","text":"15.2B","dx":-148.7,"dy":-5,"align":"left","baseline":"alphabetic","fontSize":10,"font":"Liberation Sans","color":"#000"},"encoding":{"x":{"datum":{"year":2026,"month":8,"date":15,"utc":true},"type":"temporal"},"y":{"datum":7905,"type":"quantitative"}}},
{"data":{"name":"one"},"mark":{"type":"text","text":"Chg","dx":-119.8,"dy":-5,"align":"left","baseline":"alphabetic","fontSize":10,"fontWeight":"bold","font":"Liberation Sans","color":"#000"},"encoding":{"x":{"datum":{"year":2026,"month":8,"date":15,"utc":true},"type":"temporal"},"y":{"datum":7905,"type":"quantitative"}}},
{"data":{"name":"one"},"mark":{"type":"text","text":"+64.97 (+0.88%)","dx":-97.6,"dy":-5,"align":"left","baseline":"alphabetic","fontSize":10,"font":"Liberation Sans","color":"#000"},"encoding":{"x":{"datum":{"year":2026,"month":8,"date":15,"utc":true},"type":"temporal"},"y":{"datum":7905,"type":"quantitative"}}},
{"data":{"name":"one"},"mark":{"type":"text","text":"▲","dx":-15,"dy":-5.5,"align":"left","baseline":"alphabetic","fontSize":7,"font":"DejaVu Sans","color":"#1f8f3a"},"encoding":{"x":{"datum":{"year":2026,"month":8,"date":15,"utc":true},"type":"temporal"},"y":{"datum":7905,"type":"quantitative"}}}
]
}
